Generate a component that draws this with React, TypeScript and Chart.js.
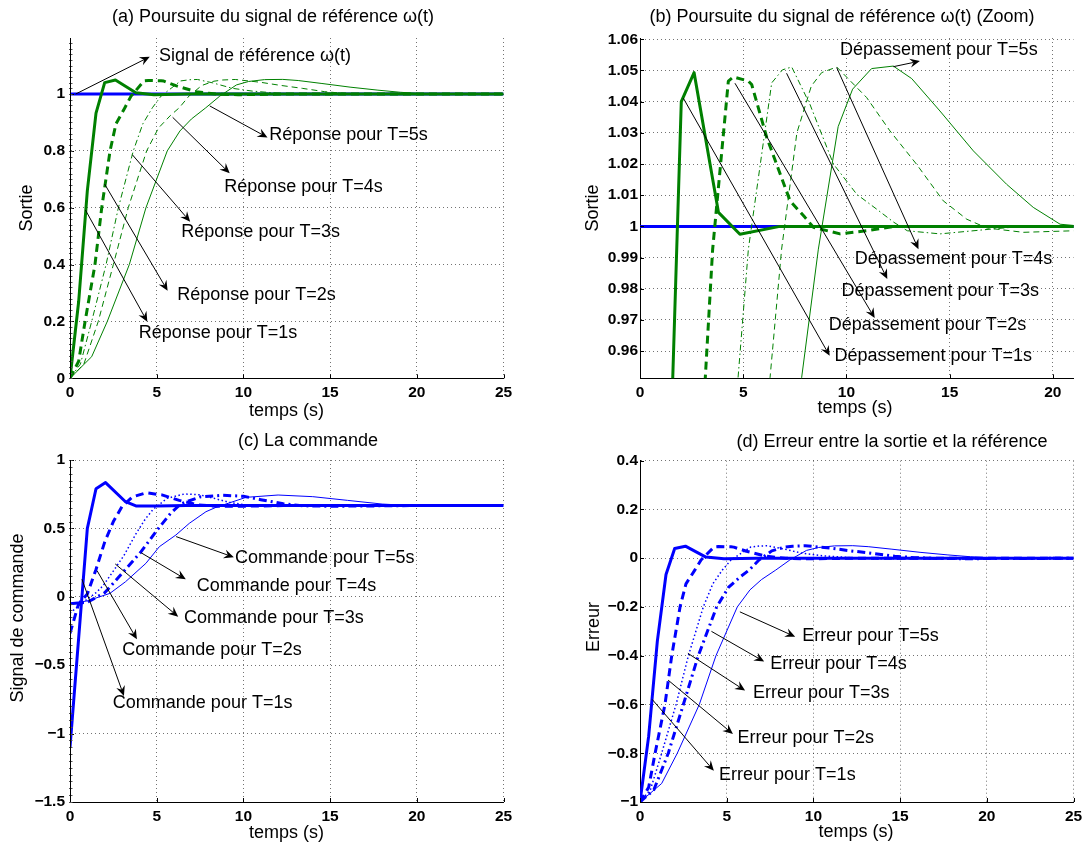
import React, { useEffect, useRef } from "react";
import { Chart, registerables } from "chart.js";

Chart.register(...registerables);

const FONT = "'Liberation Sans', Arial, Helvetica, sans-serif";
const GREEN = "rgb(0,128,0)";
const BLUE = "rgb(0,0,255)";

// ---------------- Data ----------------
// Reference signal omega(t)
const refT = [0, 25];
const refY = [1, 1];

// Output (Sortie) for T = 1..5 s
const t1 = [0, 0.5, 1, 1.5, 2, 2.62, 3.8, 4.84, 6.78, 25];
const y1 = [0, 0.27, 0.66, 0.933, 1.04, 1.0493, 1.0045, 0.9975, 1.0, 1.0];

const t2 = [0, 0.5, 0.87, 1.44, 1.83, 2.31, 2.65, 3.15, 3.52, 4.28, 4.52, 5.25, 5.41, 6.14, 7.27, 7.99, 8.4, 9.69, 10.98, 12.3, 25];
const y2 = [0, 0.06, 0.2, 0.4, 0.6, 0.8, 0.895, 0.95, 0.9927, 1.0466, 1.0479, 1.0466, 1.0455, 1.0285, 1.0082, 1.0029, 0.9997, 0.9976, 0.9986, 1.0, 1.0];

const t3 = [0, 0.6, 1.25, 2.08, 2.79, 3.65, 4.2, 4.75, 5.25, 6.38, 6.9, 7.35, 8.24, 9.37, 10.5, 11.47, 12.3, 12.95, 14.53, 16.96, 18.5, 25];
const y3 = [0, 0.05, 0.2, 0.4, 0.6, 0.8, 0.895, 0.9515, 0.9927, 1.046, 1.0502, 1.0511, 1.039, 1.02, 1.0103, 1.0055, 1.0013, 0.9986, 0.9976, 0.9991, 1.0, 1.0];

const t4 = [0, 0.8, 1.63, 2.5, 3.36, 4.42, 5.1, 5.8, 6.3, 6.86, 7.6, 8.3, 8.8, 9.53, 10.98, 12.11, 13.4, 14.69, 15.83, 16.8, 18.57, 21, 25];
const y4 = [0, 0.05, 0.2, 0.4, 0.6, 0.8, 0.88, 0.925, 0.9515, 0.9927, 1.03, 1.045, 1.0493, 1.0511, 1.0413, 1.0306, 1.0199, 1.0082, 1.0023, 0.9995, 0.9981, 0.9986, 0.9998];

const t5 = [0, 1.25, 2.15, 3.42, 4.38, 5.61, 6.34, 7.0, 7.83, 8.64, 9.6, 10.3, 11.22, 12.27, 13.16, 14.53, 16.15, 17.76, 19.05, 20.35, 21.5, 25];
const y5 = [0, 0.076, 0.2, 0.4, 0.6, 0.8, 0.87, 0.912, 0.9515, 0.9927, 1.032, 1.044, 1.0506, 1.0514, 1.0474, 1.037, 1.0242, 1.0135, 1.0061, 1.0007, 1.0, 1.0];

// Error (Erreur) for T = 1..5 s (same time bases as the outputs)
const e1 = [-1, -0.73, -0.34, -0.067, 0.04, 0.0493, 0.0045, -0.0025, 0, 0];
const e2 = [-1, -0.94, -0.8, -0.6, -0.4, -0.2, -0.105, -0.05, -0.0073, 0.0466, 0.0479, 0.0466, 0.0455, 0.0285, 0.0082, 0.0029, -0.0003, -0.0024, -0.0014, 0, 0];
const e3 = [-1, -0.95, -0.8, -0.6, -0.4, -0.2, -0.105, -0.0485, -0.0073, 0.046, 0.0502, 0.0511, 0.039, 0.02, 0.0103, 0.0055, 0.0013, -0.0014, -0.0024, -0.0009, 0, 0];
const e4 = [-1, -0.95, -0.8, -0.6, -0.4, -0.2, -0.12, -0.075, -0.0485, -0.0073, 0.03, 0.045, 0.0493, 0.0511, 0.0413, 0.0306, 0.0199, 0.0082, 0.0023, -0.0005, -0.0019, -0.0014, -0.0002];
const e5 = [-1, -0.924, -0.8, -0.6, -0.4, -0.2, -0.13, -0.088, -0.0485, -0.0073, 0.032, 0.044, 0.0506, 0.0514, 0.0474, 0.037, 0.0242, 0.0135, 0.0061, 0.0007, 0, 0];

// Control signal (commande) for T = 1..5 s
const tu1 = [0, 1, 1.5, 2.05, 3.2, 3.8, 5, 6.7, 25];
const u1 = [-1.1, 0.5, 0.79, 0.835, 0.695, 0.664, 0.664, 0.667, 0.667];

const tu2 = [0, 0.5, 1.0, 1.5, 2.0, 2.5, 3.0, 3.6, 4.4, 5.3, 6.3, 7.4, 8.4, 10, 12.3, 25];
const u2 = [-0.267, -0.05, 0.02, 0.2, 0.4, 0.55, 0.66, 0.73, 0.76, 0.745, 0.705, 0.672, 0.662, 0.662, 0.667, 0.667];

const tu3 = [0, 0.75, 1.5, 1.9, 2.4, 3.1, 3.8, 4.35, 4.8, 5.6, 6.6, 7.5, 8.3, 9.2, 10.2, 11.2, 13, 15, 25];
const u3 = [-0.12, -0.04, 0.03, 0.08, 0.17, 0.3, 0.46, 0.57, 0.64, 0.72, 0.752, 0.745, 0.72, 0.69, 0.67, 0.663, 0.664, 0.667, 0.667];

const tu4 = [0, 1, 2, 2.5, 3.2, 4.1, 5.1, 5.8, 6.4, 7.5, 8.8, 10, 11, 12.3, 13.5, 15, 17, 20, 25];
const u4 = [-0.05, -0.04, 0.03, 0.1, 0.2, 0.33, 0.5, 0.61, 0.68, 0.73, 0.742, 0.735, 0.71, 0.68, 0.665, 0.662, 0.664, 0.667, 0.667];

const tu5 = [0, 1, 2.3, 3.2, 4.38, 5.15, 6.11, 6.88, 7.84, 8.42, 10.15, 12, 14, 16, 18, 19.5, 25];
const u5 = [-0.05, -0.03, 0.025, 0.11, 0.245, 0.366, 0.452, 0.537, 0.622, 0.654, 0.727, 0.744, 0.732, 0.705, 0.678, 0.668, 0.667];

// Tick values
const xTicks25 = [0, 5, 10, 15, 20, 25];
const xTicksZoom = [0, 5, 10, 15, 20];
const yTicksA = [0, 0.2, 0.4, 0.6, 0.8, 1];
const yTicksB = [0.96, 0.97, 0.98, 0.99, 1, 1.01, 1.02, 1.03, 1.04, 1.05, 1.06];
const yTicksC = [-1.5, -1, -0.5, 0, 0.5, 1];
const yTicksD = [-1, -0.8, -0.6, -0.4, -0.2, 0, 0.2, 0.4];

// ---------------- Styles ----------------
const greenStyles = [
  { w: 3, dash: [] as number[] },
  { w: 3, dash: [8, 5] },
  { w: 1, dash: [6, 3, 1.5, 3] },
  { w: 1, dash: [6, 4] },
  { w: 1, dash: [] as number[] },
];
const blueStyles = [
  { w: 3, dash: [] as number[] },
  { w: 3, dash: [8, 5] },
  { w: 1.5, dash: [1.5, 2.5] },
  { w: 3, dash: [8, 4, 2, 4] },
  { w: 1, dash: [] as number[] },
];

type XY = { x: number; y: number };
const pts = (ts: number[], vs: number[]): XY[] => ts.map((t, i) => ({ x: t, y: vs[i] }));

interface Ann { from: [number, number]; to: [number, number]; text: string; at: [number, number] }
interface TextPos { text: string; x: number; y: number }
interface Series { t: number[]; v: number[]; color: string; width: number; dash: number[] }
interface Panel {
  id: string; left: number; top: number; w: number; h: number;
  area: { l: number; r: number; t: number; b: number };
  xRange: [number, number]; yRange: [number, number];
  xTicks: number[]; yTicks: number[];
  yLabelPad: number; minorY?: number;
  series: Series[];
  title: TextPos; xLabel: TextPos; yLabel: TextPos;
  anns: Ann[];
}

const outSeries = (): Series[] => {
  const ts = [t1, t2, t3, t4, t5];
  const vs = [y1, y2, y3, y4, y5];
  const s: Series[] = ts.map((t, i) => ({ t, v: vs[i], color: GREEN, width: greenStyles[i].w, dash: greenStyles[i].dash }));
  s.push({ t: refT, v: refY, color: BLUE, width: 3, dash: [] });
  return s;
};
const cmdSeries = (): Series[] => {
  const ts = [tu1, tu2, tu3, tu4, tu5];
  const vs = [u1, u2, u3, u4, u5];
  return ts.map((t, i) => ({ t, v: vs[i], color: BLUE, width: blueStyles[i].w, dash: blueStyles[i].dash }));
};
const errSeries = (): Series[] => {
  const ts = [t1, t2, t3, t4, t5];
  const vs = [e1, e2, e3, e4, e5];
  return ts.map((t, i) => ({ t, v: vs[i], color: BLUE, width: blueStyles[i].w, dash: blueStyles[i].dash }));
};

const PANELS: Panel[] = [
  {
    id: "a", left: 0, top: 0, w: 542, h: 423,
    area: { l: 70, r: 503.5, t: 38, b: 378.3 },
    xRange: [0, 25], yRange: [0, 1.197], xTicks: xTicks25, yTicks: yTicksA,
    yLabelPad: 5, minorY: 0.02,
    series: outSeries(),
    title: { text: "(a) Poursuite du signal de référence ω(t)", x: 273, y: 17 },
    xLabel: { text: "temps (s)", x: 286.5, y: 410.7 },
    yLabel: { text: "Sortie", x: 27, y: 208 },
    anns: [
      { from: [0.33, 1.0], to: [4.6, 1.131], text: "Signal de référence ω(t)", at: [5.13, 1.134] },
      { from: [8.06, 0.958], to: [11.39, 0.847], text: "Réponse pour T=5s", at: [11.49, 0.856] },
      { from: [5.92, 0.918], to: [9.21, 0.721], text: "Réponse pour T=4s", at: [8.89, 0.674] },
      { from: [3.6, 0.786], to: [6.93, 0.551], text: "Réponse pour T=3s", at: [6.42, 0.516] },
      { from: [2.0, 0.683], to: [5.63, 0.308], text: "Réponse pour T=2s", at: [6.18, 0.293] },
      { from: [0.89, 0.592], to: [4.46, 0.199], text: "Réponse pour T=1s", at: [3.96, 0.158] },
    ],
  },
  {
    id: "b", left: 542, top: 0, w: 542, h: 423,
    area: { l: 98, r: 531.5, t: 38, b: 378.3 },
    xRange: [0, 21], yRange: [0.9513, 1.0604], xTicks: xTicksZoom, yTicks: yTicksB,
    yLabelPad: 2,
    series: outSeries(),
    title: { text: "(b) Poursuite du signal de référence ω(t) (Zoom)", x: 300, y: 17 },
    xLabel: { text: "temps (s)", x: 313, y: 408.5 },
    yLabel: { text: "Sortie", x: 50.7, y: 208 },
    anns: [
      { from: [12.27, 1.0512], to: [13.56, 1.053], text: "Dépassement pour T=5s", at: [9.69, 1.0566] },
      { from: [9.53, 1.0509], to: [13.49, 0.9927], text: "Dépassement pour T=4s", at: [10.4, 0.9895] },
      { from: [7.1, 1.0491], to: [11.98, 0.9831], text: "Dépassement pour T=3s", at: [9.76, 0.9793] },
      { from: [4.6, 1.0459], to: [11.37, 0.9706], text: "Dépassement pour T=2s", at: [9.14, 0.9684] },
      { from: [2.1, 1.0411], to: [9.19, 0.9585], text: "Dépassement pour T=1s", at: [9.42, 0.9585] },
    ],
  },
  {
    id: "c", left: 0, top: 423, w: 542, h: 423,
    area: { l: 70, r: 503.5, t: 37, b: 379 },
    xRange: [0, 25], yRange: [-1.5, 1], xTicks: xTicks25, yTicks: yTicksC,
    yLabelPad: 5, minorY: 0.05,
    series: cmdSeries(),
    title: { text: "(c) La commande", x: 308, y: 18 },
    xLabel: { text: "temps (s)", x: 286.5, y: 410 },
    yLabel: { text: "Signal de commande", x: 18, y: 195 },
    anns: [
      { from: [6.12, 0.44], to: [9.45, 0.289], text: "Commande pour T=5s", at: [9.51, 0.281] },
      { from: [4.1, 0.322], to: [6.68, 0.128], text: "Commande pour T=4s", at: [7.31, 0.081] },
      { from: [2.61, 0.24], to: [6.24, -0.145], text: "Commande pour T=3s", at: [6.58, -0.153] },
      { from: [1.56, 0.191], to: [3.86, -0.311], text: "Commande pour T=2s", at: [3.01, -0.389] },
      { from: [0.69, 0.128], to: [3.11, -0.725], text: "Commande pour T=1s", at: [2.47, -0.774] },
    ],
  },
  {
    id: "d", left: 542, top: 423, w: 542, h: 423,
    area: { l: 98, r: 531.5, t: 37.7, b: 379 },
    xRange: [0, 25], yRange: [-1, 0.4], xTicks: xTicks25, yTicks: yTicksD,
    yLabelPad: 2,
    series: errSeries(),
    title: { text: "(d) Erreur entre la sortie et la référence", x: 350, y: 19.5 },
    xLabel: { text: "temps (s)", x: 314, y: 408.7 },
    yLabel: { text: "Erreur", x: 52.3, y: 204 },
    anns: [
      { from: [5.76, -0.22], to: [8.95, -0.322], text: "Erreur pour T=5s", at: [9.35, -0.319] },
      { from: [4.12, -0.3], to: [7.16, -0.424], text: "Erreur pour T=4s", at: [7.51, -0.434] },
      { from: [2.76, -0.39], to: [6.06, -0.543], text: "Erreur pour T=3s", at: [6.52, -0.551] },
      { from: [1.62, -0.5], to: [5.36, -0.721], text: "Erreur pour T=2s", at: [5.62, -0.736] },
      { from: [0.7, -0.579], to: [4.26, -0.872], text: "Erreur pour T=1s", at: [4.56, -0.889] },
    ],
  },
];

const fmt = (v: number): string => String(Math.round(v * 1000) / 1000).replace("-", "\u2212");

function drawArrow(ctx: CanvasRenderingContext2D, x0: number, y0: number, x1: number, y1: number) {
  const dx = x1 - x0, dy = y1 - y0;
  const L = Math.hypot(dx, dy) || 1;
  const ux = dx / L, uy = dy / L, nx = -uy, ny = ux;
  const hl = 10, hw = 4.5, notch = 6.5;
  ctx.beginPath();
  ctx.moveTo(x0, y0);
  ctx.lineTo(x1 - ux * notch, y1 - uy * notch);
  ctx.stroke();
  ctx.beginPath();
  ctx.moveTo(x1, y1);
  ctx.lineTo(x1 - ux * hl + nx * hw, y1 - uy * hl + ny * hw);
  ctx.lineTo(x1 - ux * notch, y1 - uy * notch);
  ctx.lineTo(x1 - ux * hl - nx * hw, y1 - uy * hl - ny * hw);
  ctx.closePath();
  ctx.fill();
}

function decorPlugin(p: Panel) {
  return {
    id: "decor" + p.id,
    afterDraw(chart: any) {
      const ctx: CanvasRenderingContext2D = chart.ctx;
      const xs = chart.scales.x;
      const ys = chart.scales.y;
      const a = chart.chartArea;
      ctx.save();
      // inward major ticks
      ctx.strokeStyle = "#000";
      ctx.lineWidth = 1;
      ctx.setLineDash([]);
      p.xTicks.forEach((v) => {
        const px = Math.round(xs.getPixelForValue(v)) + 0.5;
        ctx.beginPath(); ctx.moveTo(px, a.bottom); ctx.lineTo(px, a.bottom - 4); ctx.stroke();
      });
      p.yTicks.forEach((v) => {
        const py = Math.round(ys.getPixelForValue(v)) + 0.5;
        ctx.beginPath(); ctx.moveTo(a.left, py); ctx.lineTo(a.left + 4, py); ctx.stroke();
      });
      // minor ticks on the y axis
      if (p.minorY) {
        ctx.strokeStyle = "#555";
        const n = Math.floor((p.yRange[1] - p.yRange[0]) / p.minorY + 1e-6);
        for (let i = 0; i <= n; i++) {
          const v = p.yRange[0] + i * p.minorY;
          const py = Math.round(ys.getPixelForValue(v)) + 0.5;
          ctx.beginPath(); ctx.moveTo(a.left - 1, py); ctx.lineTo(a.left + 2.5, py); ctx.stroke();
        }
        ctx.strokeStyle = "#000";
        ctx.beginPath(); ctx.moveTo(Math.round(a.left) + 0.5, a.top); ctx.lineTo(Math.round(a.left) + 0.5, a.bottom); ctx.stroke();
      }
      // arrows + annotation texts
      ctx.fillStyle = "#000";
      ctx.strokeStyle = "#000";
      ctx.lineWidth = 1;
      ctx.font = `18px ${FONT}`;
      ctx.textAlign = "left";
      ctx.textBaseline = "middle";
      p.anns.forEach((an) => {
        drawArrow(ctx,
          xs.getPixelForValue(an.from[0]), ys.getPixelForValue(an.from[1]),
          xs.getPixelForValue(an.to[0]), ys.getPixelForValue(an.to[1]));
      });
      p.anns.forEach((an) => {
        ctx.fillText(an.text, xs.getPixelForValue(an.at[0]), ys.getPixelForValue(an.at[1]));
      });
      // title and axis labels
      ctx.textAlign = "center";
      ctx.fillText(p.title.text, p.title.x, p.title.y);
      ctx.fillText(p.xLabel.text, p.xLabel.x, p.xLabel.y);
      ctx.save();
      ctx.translate(p.yLabel.x, p.yLabel.y);
      ctx.rotate(-Math.PI / 2);
      ctx.fillText(p.yLabel.text, 0, 0);
      ctx.restore();
      ctx.restore();
    },
  };
}

function PanelChart({ p }: { p: Panel }) {
  const ref = useRef<HTMLCanvasElement>(null);
  useEffect(() => {
    if (!ref.current) return;
    const datasets = p.series.map((s) => ({
      data: pts(s.t, s.v),
      borderColor: s.color,
      backgroundColor: s.color,
      borderWidth: s.width,
      borderDash: s.dash,
      borderCapStyle: "butt",
      borderJoinStyle: "round",
      pointRadius: 0,
      pointHoverRadius: 0,
      fill: false,
      tension: 0,
    }));
    const tickFont = { family: FONT, size: 15.5, weight: "bold" as const };
    const gridOpts = { color: "rgba(0,0,0,0.55)", lineWidth: 1, drawTicks: false, drawOnChartArea: true };
    const borderOpts = { display: true, color: "#000", width: 1, dash: [1, 3] };
    const chart = new Chart(ref.current, {
      type: "line",
      data: { datasets: datasets as any },
      options: {
        animation: false,
        responsive: false,
        devicePixelRatio: 1,
        events: [],
        layout: { padding: { left: 0, top: p.area.t, right: p.w - p.area.r, bottom: 0 } },
        plugins: { legend: { display: false }, tooltip: { enabled: false }, title: { display: false } },
        scales: {
          x: {
            type: "linear",
            min: p.xRange[0],
            max: p.xRange[1],
            afterBuildTicks: (s: any) => { s.ticks = p.xTicks.map((v) => ({ value: v })); },
            afterFit: (s: any) => {
              s.height = p.h - p.area.b;
              s.paddingLeft = 0; s.paddingRight = 0; s.paddingTop = 0; s.paddingBottom = 0;
            },
            ticks: { autoSkip: false, maxRotation: 0, minRotation: 0, padding: 5.1, color: "#000", font: tickFont, callback: (v: any) => fmt(Number(v)) },
            grid: gridOpts,
            border: borderOpts,
          },
          y: {
            type: "linear",
            min: p.yRange[0],
            max: p.yRange[1],
            afterBuildTicks: (s: any) => { s.ticks = p.yTicks.map((v) => ({ value: v })); },
            afterFit: (s: any) => {
              s.width = p.area.l;
              s.paddingLeft = 0; s.paddingRight = 0; s.paddingTop = 0; s.paddingBottom = 0;
            },
            ticks: { autoSkip: false, padding: p.yLabelPad, color: "#000", font: tickFont, callback: (v: any) => fmt(Number(v)) },
            grid: gridOpts,
            border: borderOpts,
          },
        },
      } as any,
      plugins: [decorPlugin(p)],
    });
    return () => chart.destroy();
  }, []);
  return (
    <canvas
      ref={ref}
      width={p.w}
      height={p.h}
      style={{ position: "absolute", left: p.left, top: p.top, width: p.w, height: p.h }}
    />
  );
}

export default function App() {
  return (
    <div style={{ position: "absolute", left: 0, top: 0, width: 1084, height: 846, background: "#fff", overflow: "hidden" }}>
      {PANELS.map((p) => (
        <PanelChart key={p.id} p={p} />
      ))}
    </div>
  );
}
